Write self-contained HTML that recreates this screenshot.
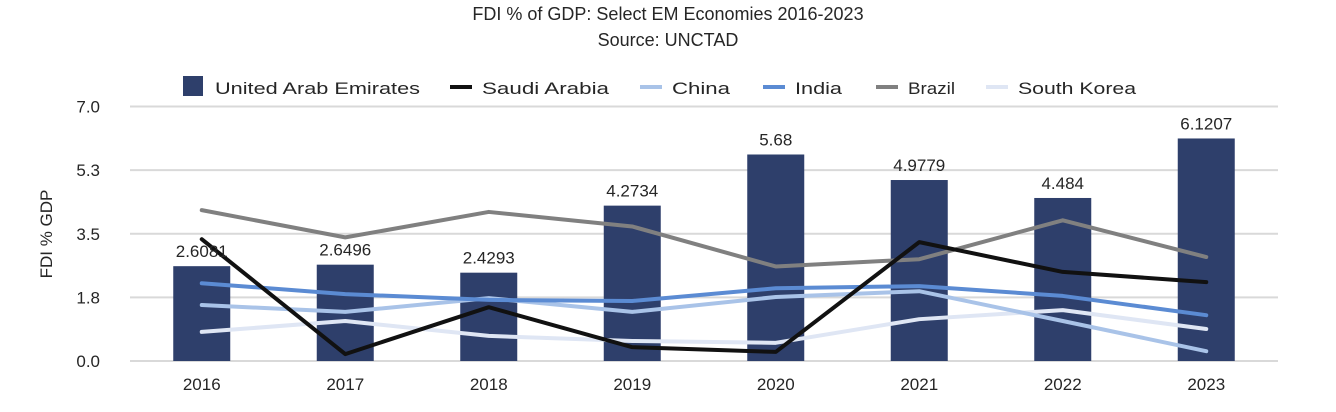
<!DOCTYPE html>
<html><head><meta charset="utf-8"><style>
body{margin:0;background:#fff;}
svg text{font-family:"Liberation Sans",sans-serif;fill:#262626;}
</style></head><body>
<svg id="chart" width="1336" height="407">
<text x="668" y="20" font-size="18" text-anchor="middle">FDI % of GDP: Select EM Economies 2016-2023</text>
<text x="668" y="46" font-size="18" text-anchor="middle">Source: UNCTAD</text>
<text transform="translate(52,234) rotate(-90)" font-size="17" text-anchor="middle">FDI % GDP</text>
<g id="grid"></g><g id="bars"></g><g id="lines"></g><g id="labels"></g><g id="legend"></g>
</svg>
<script>
const categories=["2016","2017","2018","2019","2020","2021","2022","2023"];
const uae=[2.6081,2.6496,2.4293,4.2734,5.68,4.9779,4.484,6.1207];
const uaeLabels=["2.6081","2.6496","2.4293","4.2734","5.68","4.9779","4.484","6.1207"];
const saudi=[3.35,0.19,1.48,0.38,0.25,3.27,2.45,2.17];
const china=[1.54,1.35,1.73,1.35,1.76,1.92,1.1,0.27];
const india=[2.14,1.84,1.68,1.65,2.0,2.06,1.79,1.26];
const brazil=[4.15,3.4,4.1,3.7,2.6,2.8,3.87,2.86];
const korea=[0.8,1.1,0.69,0.55,0.5,1.15,1.4,0.88];
const ticks=[0,1.75,3.5,5.25,7];
const tickLabels=["0.0","1.8","3.5","5.3","7.0"];
const NS="http://www.w3.org/2000/svg";
const x0=130,x1=1278,y0=361,yTop=106.5,yMax=7;
const band=(x1-x0)/categories.length;
const X=i=>x0+band*(i+0.5);
const Y=v=>y0-(v/yMax)*(y0-yTop);
function mk(tag,attrs,parent,txt){const e=document.createElementNS(NS,tag);for(const k in attrs)e.setAttribute(k,attrs[k]);if(txt!==undefined)e.textContent=txt;document.getElementById(parent).appendChild(e);return e;}
ticks.forEach((t,i)=>{
 const l=mk('line',{x1:x0,x2:x1,y1:Y(t),y2:Y(t),stroke:'#d9d9d9','stroke-width':2},'grid');
 
 
 const tx=mk('text',{x:100,y:Y(t)+6,'font-size':17,'text-anchor':'end'},'grid',tickLabels[i]);
 
 
});
categories.forEach((c,i)=>{
 const tx=mk('text',{x:X(i),y:390,'font-size':17,'text-anchor':'middle'},'grid',c);
 
 
 const b=mk('rect',{x:X(i)-28.5,y:Y(uae[i]),width:57,height:y0-Y(uae[i]),fill:'#2e3f6b'},'bars');
 
 
 const lb=mk('text',{x:X(i),y:Y(uae[i])-9,'font-size':17,'text-anchor':'middle'},'labels',uaeLabels[i]);
 
 
});
const series=[[korea,'#dfe6f4','south-korea'],[china,'#a9c3e8','china'],[india,'#5b8bd3','india'],[brazil,'#808080','brazil'],[saudi,'#111111','saudi-arabia']];
series.forEach(s=>{
 const p=mk('polyline',{points:s[0].map((v,i)=>X(i)+','+Y(v)).join(' '),fill:'none',stroke:s[1],'stroke-width':4,'stroke-linejoin':'round','stroke-linecap':'round'},'lines');
 
 
});
const leg=[['United Arab Emirates','#2e3f6b',183,'box',205],['Saudi Arabia','#111111',450,'line',127],['China','#a9c3e8',640,'line',58],['India','#5b8bd3',763,'line',47],['Brazil','#808080',876,'line',47],['South Korea','#dfe6f4',986,'line',118]];
leg.forEach(l=>{
 let m;
 if(l[3]==='box')m=mk('rect',{x:l[2],y:76,width:20,height:20,fill:l[1]},'legend');
 else m=mk('line',{x1:l[2],x2:l[2]+22,y1:87,y2:87,stroke:l[1],'stroke-width':4},'legend');
 
 
 const t=mk('text',{x:l[2]+32,y:94,'font-size':17,textLength:l[4],lengthAdjust:'spacingAndGlyphs'},'legend',l[0]);
 
 
});
</script>
</body></html>
